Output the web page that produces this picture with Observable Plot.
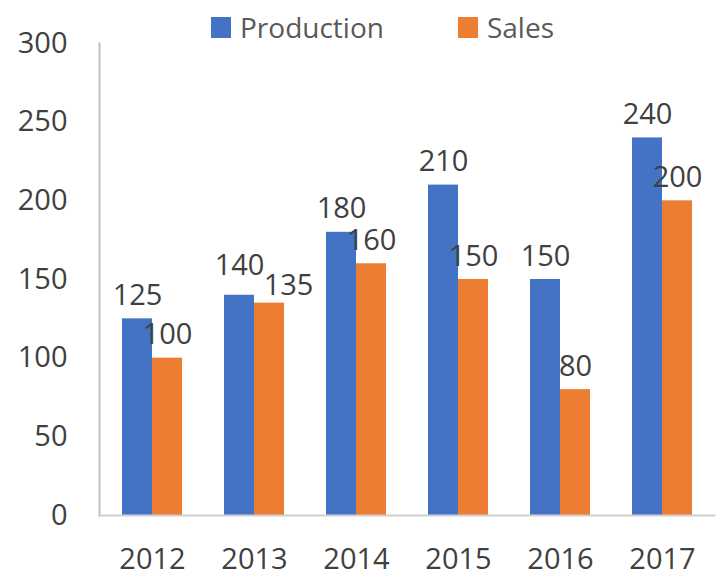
<!DOCTYPE html>
<html>
<head>
<meta charset="utf-8">
<script src="https://cdn.jsdelivr.net/npm/d3@7"></script>
<script src="https://cdn.jsdelivr.net/npm/@observablehq/plot@0.6"></script>
<style>
  html, body { margin: 0; padding: 0; background: #fff; }
  #wrap { position: relative; width: 722px; height: 576px; font-family: "Open Sans", sans-serif; }
  #legend { position: absolute; top: 8px; left: 211px; display: flex; align-items: center; font-size: 28px; color: #595959; }
  #legend .item { display: flex; align-items: center; margin-right: 74px; }
  #legend .sw { width: 20px; height: 21px; margin-right: 9px; }
</style>
</head>
<body>
<div id="wrap"><div id="legend"></div></div>
<script>
const years = ["2012", "2013", "2014", "2015", "2016", "2017"];
const production = [125, 140, 180, 210, 150, 240];
const sales = [100, 135, 160, 150, 80, 200];
const seriesNames = ["Production", "Sales"];
const seriesColors = ["#4472C4", "#ED7D31"];
const yTicks = [0, 50, 100, 150, 200, 250, 300];

const prodData = years.map((y, i) => ({year: y, value: production[i]}));
const salesData = years.map((y, i) => ({year: y, value: sales[i]}));
const textColor = "#404040";
const crowded = "2013"; // labels nudged apart like the original

const labelOpts = {x: "year", y: "value", text: d => String(d.value), lineAnchor: "bottom", fill: textColor, fontSize: 29};

const plot = Plot.plot({
  width: 722,
  height: 576,
  marginLeft: 99,
  marginRight: 8,
  marginTop: 43,
  marginBottom: 61,
  style: {fontFamily: "Open Sans, sans-serif", fontSize: "29px", color: textColor, background: "white"},
  x: {domain: years, paddingInner: 0.415, paddingOuter: 0.205, label: null},
  y: {domain: [0, 300], ticks: yTicks, label: null},
  marks: [
    Plot.axisY({ticks: yTicks, tickSize: 0, tickPadding: 32, label: null, fontSize: 29, fill: textColor}),
    Plot.axisX({tickSize: 0, tickPadding: 33, label: null, fontSize: 29, fill: textColor}),
    Plot.barY(prodData, {x: "year", y: "value", fill: seriesColors[0], insetRight: 30}),
    Plot.barY(salesData, {x: "year", y: "value", fill: seriesColors[1], insetLeft: 30}),
    Plot.frame({anchor: "left", stroke: "#bfbfbf", strokeWidth: 2}),
    Plot.frame({anchor: "bottom", stroke: "#d0d0d0", strokeWidth: 2}),
    Plot.text(prodData, {...labelOpts, filter: d => d.year !== crowded, dx: -15, dy: -14}),
    Plot.text(salesData, {...labelOpts, filter: d => d.year !== crowded, dx: 15, dy: -14}),
    Plot.text(prodData, {...labelOpts, filter: d => d.year === crowded, dx: -15, dy: -20}),
    Plot.text(salesData, {...labelOpts, filter: d => d.year === crowded, dx: 34, dy: -8})
  ]
});
document.getElementById("wrap").appendChild(plot);

const legend = document.getElementById("legend");
seriesNames.forEach((name, i) => {
  const item = document.createElement("div");
  item.className = "item";
  const sw = document.createElement("div");
  sw.className = "sw";
  sw.style.background = seriesColors[i];
  const lab = document.createElement("span");
  lab.textContent = name;
  item.appendChild(sw);
  item.appendChild(lab);
  legend.appendChild(item);
});
</script>
</body>
</html>
